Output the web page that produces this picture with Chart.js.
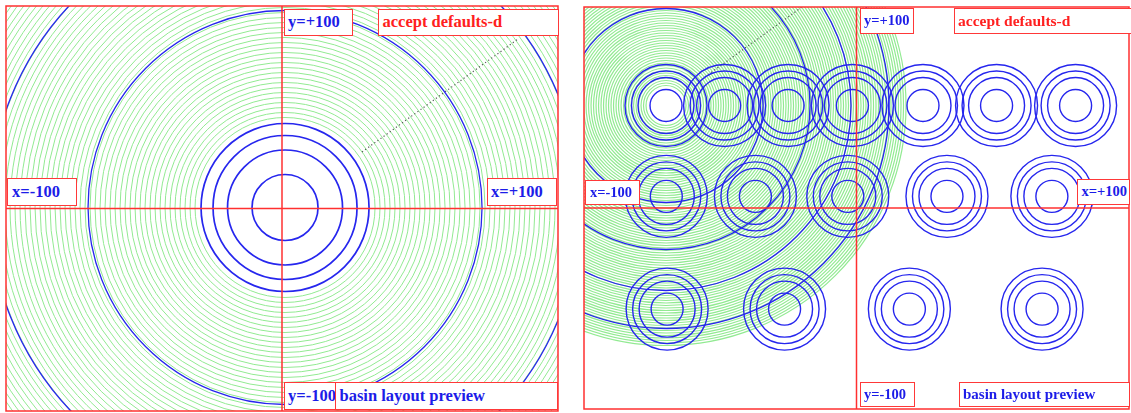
<!DOCTYPE html>
<html><head><meta charset="utf-8">
<script src="https://cdn.jsdelivr.net/npm/chart.js@4.4.0/dist/chart.umd.min.js"></script>
<style>
html,body{margin:0;padding:0;background:#fff;width:1131px;height:413px;overflow:hidden;position:relative}
.wrap{position:absolute;top:0;height:413px}
.lbl{position:absolute;box-sizing:border-box;background:#fff;border:1.5px solid #ff3838;font-family:'Liberation Serif','Times New Roman',serif;font-weight:bold;white-space:nowrap;overflow:hidden;z-index:5}
.b{color:#1c1ce8}.r{color:#ff2020}
</style></head><body>
<div class="wrap" style="left:0;width:565px"><canvas id="c1"></canvas></div>
<div class="wrap" style="left:570px;width:561px"><canvas id="c2"></canvas></div>
<script>
// ---- data ----
const axisLabels = ['x=-100', 'x=+100', 'y=+100', 'y=-100'];
const panelTitles = ['accept defaults-d', 'basin layout preview'];

// left panel (single basin, enlarged)
const leftCenterX = [1.1];
const leftCenterY = [0.5];
const leftRingRadii = [33, 57.5, 72, 84];
const leftBigRadii = [197, 295.5];
const leftGreenRadii = [90,95,100,105,110,115,120,125,130,135,140,145,150,155,160,165,170,175,180,185,190,195,200,205,210,215,220,225,230,235,240,245,250,255,260,265,270,275,280,285,290,295,300,305,310,315,320,325,330,335,340,345,350];
const leftDotX = [29.0, 85.5];
const leftDotY = [27.9, 83.7];

// right panel (basin layout)
const rightCenterX = [-69.9];
const rightCenterY = [51.0];
const rightBigRadii = [97, 144, 185, 223];
const rightGreenRadii = [20,22.5,25,27.5,30,32.5,35,37.5,40,42.5,45,47.5,50,52.5,55,57.5,60,62.5,65,67.5,70,72.5,75,77.5,80,82.5,85,87.5,90,92.5,95,97.5,100,102.5,105,107.5,110,112.5,115,117.5,120,122.5,125,127.5,130,132.5,135,137.5,140,142.5,145,147.5,150,152.5,155,157.5,160,162.5,165,167.5,170,172.5,175,177.5,180,182.5,185,187.5,190,192.5,195,197.5,200,202.5,205,207.5,210,212.5,215,217.5,220,222.5,225,227.5,230,232.5,235,237.5,240];
const rightRingRadii = [16, 28, 34.5, 41];
const row1X = [-69.9, -48.4, -25.1, -1.5, 24.4, 51.4, 80.4];
const row2X = [-69.8, -37.1, -3.2, 33.2, 71.7];
const row3X = [-69.5, -26.4, 19.4, 68.1];
const rowY = [51.0, 5.8, -50.3];
const rightDotX = [-55.6, -20.0];
const rightDotY = [65.2, 100];

const crossV = [{x:0,y:-100},{x:0,y:100}];
const crossH = [{x:-100,y:0},{x:100,y:0}];

// ---- styles ----
const RED = '#ff3030', BLUE = '#2626ee', GREEN = '#92ea92';

function rings(cx, cy, radii){ return radii.map(r => ({x:cx, y:cy, r:r})); }

const framePlugin = {
  id:'frame',
  afterDatasetsDraw(chart){
    const a = chart.chartArea, ctx = chart.ctx;
    ctx.save();
    ctx.strokeStyle = RED; ctx.lineWidth = 1.5;
    ctx.strokeRect(a.left, a.top, a.right - a.left, a.bottom - a.top);
    ctx.restore();
  }
};

function makeChart(id, pad, blueRingData, bigData, greenData, dot, ringWidth, greenWidth){
  const bubble = (data, color, w) => ({type:'bubble', data, backgroundColor:'rgba(0,0,0,0)', borderColor:color, borderWidth:w, hoverBorderWidth:w, clip:0});
  return new Chart(document.getElementById(id), {
    type:'bubble',
    data:{datasets:[
      {type:'line', data:crossV, borderColor:RED, borderWidth:1.5, pointRadius:0, clip:0},
      {type:'line', data:crossH, borderColor:RED, borderWidth:1.5, pointRadius:0, clip:0},
      bubble(blueRingData, BLUE, ringWidth),
      bubble(bigData, BLUE, 1.3),
      {type:'line', data:dot, borderColor:'#555', borderWidth:1.2, borderDash:[1.2,2.6], pointRadius:0, clip:0},
      bubble(greenData, GREEN, greenWidth)
    ]},
    options:{
      responsive:true, maintainAspectRatio:false, animation:false, events:[],
      layout:{autoPadding:false, padding:pad},
      plugins:{legend:{display:false}, tooltip:{enabled:false}},
      scales:{
        x:{type:'linear', min:-100, max:100, display:false},
        y:{type:'linear', min:-100, max:100, display:false}
      }
    },
    plugins:[framePlugin]
  });
}

makeChart('c1', {left:6, top:6, right:7, bottom:2},
  rings(leftCenterX[0], leftCenterY[0], leftRingRadii),
  rings(leftCenterX[0], leftCenterY[0], leftBigRadii),
  rings(leftCenterX[0], leftCenterY[0], leftGreenRadii),
  leftDotX.map((x,i)=>({x, y:leftDotY[i]})), 1.7, 1);

const rightRingData = [];
[row1X, row2X, row3X].forEach((xs, ri) => xs.forEach(x => rightRingData.push(...rings(x, rowY[ri], rightRingRadii))));
makeChart('c2', {left:14, top:7, right:2, bottom:4},
  rightRingData,
  rings(rightCenterX[0], rightCenterY[0], rightBigRadii),
  rings(rightCenterX[0], rightCenterY[0], rightGreenRadii),
  rightDotX.map((x,i)=>({x, y:rightDotY[i]})), 1.4, 1.2);

// ---- labels ----
function label(text, cls, l, t, w, h, fs, pl){
  const d = document.createElement('div');
  d.className = 'lbl ' + cls;
  d.textContent = text;
  d.style.cssText = `left:${l}px;top:${t}px;width:${w}px;height:${h}px;font-size:${fs}px;line-height:${h-3}px;padding-left:${pl}px`;
  document.body.appendChild(d);
}
label(axisLabels[2], 'b', 284, 9, 69, 27, 16.5, 3);
label(panelTitles[0], 'r', 378, 9, 181, 27, 16.5, 3.5);
label(axisLabels[0], 'b', 7, 178, 70, 28, 16.5, 4);
label(axisLabels[1], 'b', 487, 178, 70, 28, 16.5, 3);
label(axisLabels[3], 'b', 284, 382, 60, 28, 16.5, 3);
label(panelTitles[1], 'b', 335, 382, 223, 28, 16.5, 3.5);
label(axisLabels[2], 'b', 860, 8, 54, 26, 14.5, 3);
label(panelTitles[0], 'r', 954, 8, 180, 26, 15.5, 3);
label(axisLabels[0], 'b', 585, 180, 55, 25, 14.5, 4);
label(axisLabels[1], 'b', 1077, 179, 53, 26, 14.5, 3.5);
label(axisLabels[3], 'b', 860, 382, 55, 25, 14.5, 3);
label(panelTitles[1], 'b', 959, 382, 171, 25, 15, 3);
</script>
</body></html>
